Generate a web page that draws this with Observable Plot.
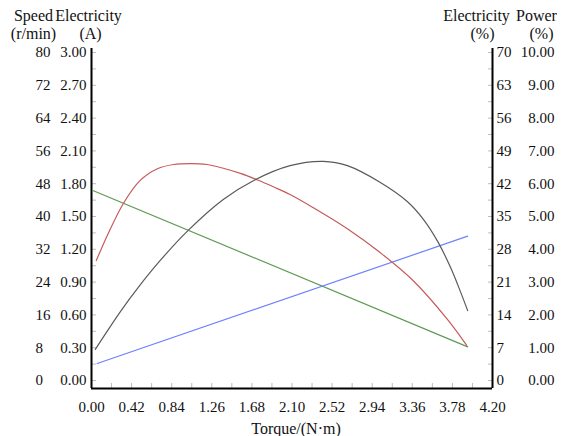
<!DOCTYPE html>
<html><head><meta charset="utf-8">
<script src="https://cdn.jsdelivr.net/npm/d3@7"></script>
<script src="https://cdn.jsdelivr.net/npm/@observablehq/plot@0.6"></script>
<style>body{margin:0;background:#fff}</style>
</head><body><div id="chart"></div>
<script>
// Speed (r/min) – green
const speedTorque = [0.02, 3.94];
const speedValues = [46.3, 8.2];
// Electricity (A) – blue
const currentTorque = [0.06, 3.94];
const currentValues = [0.156, 1.32];
// Electricity (%) – red
const effTorque = [0.05, 0.18, 0.34, 0.51, 0.69, 0.86, 1.04, 1.21, 1.38, 1.56, 1.74, 1.91, 2.08, 2.33, 2.68, 3.03, 3.37, 3.73, 3.93];
const effValues = [25.6, 31.6, 38.0, 42.7, 45.2, 46.1, 46.3, 46.1, 45.3, 44.2, 42.8, 41.3, 39.7, 36.8, 32.4, 27.2, 21.3, 13.0, 7.5];
// Power (%) – gray
const powerTorque = [0.04, 0.31, 0.49, 0.72, 1.01, 1.38, 1.70, 2.08, 2.43, 2.68, 3.03, 3.31, 3.48, 3.63, 3.76, 3.86, 3.94];
const powerValues = [0.95, 2.13, 2.84, 3.66, 4.57, 5.52, 6.10, 6.55, 6.68, 6.55, 6.03, 5.45, 4.90, 4.22, 3.45, 2.74, 2.13];

const xTickLabels = [0.00, 0.42, 0.84, 1.26, 1.68, 2.10, 2.52, 2.94, 3.36, 3.78, 4.20];
const xMinorTicks = [0.21, 0.42, 0.63, 0.84, 1.05, 1.26, 1.47, 1.68, 1.89, 2.10, 2.31, 2.52, 2.73, 2.94, 3.15, 3.36, 3.57, 3.78, 3.99];
const speedTicks = [0, 8, 16, 24, 32, 40, 48, 56, 64, 72, 80];
const currentTicks = [0.00, 0.30, 0.60, 0.90, 1.20, 1.50, 1.80, 2.10, 2.40, 2.70, 3.00];
const effTicks = [0, 7, 14, 21, 28, 35, 42, 49, 56, 63, 70];
const powerTicks = [0.00, 1.00, 2.00, 3.00, 4.00, 5.00, 6.00, 7.00, 8.00, 9.00, 10.00];
const minorTicks = [0, 4, 8, 12, 16, 20, 24, 28, 32, 36, 40, 44, 48, 52, 56, 60, 64, 68, 72, 76, 80];

// common vertical scale: speed units (0–80)
const fromSpeed = v => v, fromCurrent = v => v * 80 / 3, fromEff = v => v * 80 / 70, fromPower = v => v * 8;
const series = (xs, ys, f) => xs.map((x, i) => ({x, y: f(ys[i])}));
const speedData = series(speedTorque, speedValues, fromSpeed);
const currentData = series(currentTorque, currentValues, fromCurrent);
const effData = series(effTorque, effValues, fromEff);
const powerData = series(powerTorque, powerValues, fromPower);

const yMin = -1.95, yMax = 80.98;
const tickStroke = "#bdbdbd";
const head = (t, anchor, dx, dy) => Plot.text([t], {frameAnchor: anchor, dx, dy, text: d => d, textAnchor: "middle", lineAnchor: "middle", fontSize: 16});

const chart = Plot.plot({
  width: 562, height: 436,
  marginLeft: 91, marginRight: 70, marginTop: 48, marginBottom: 48,
  style: {fontFamily: "'Liberation Serif', 'Times New Roman', serif", fontSize: "15px", background: "#fff", color: "#111"},
  x: {domain: [0, 4.2]},
  y: {domain: [yMin, yMax]},
  marks: [
    // minor tick marks (inside)
    Plot.axisY(minorTicks, {anchor: "left", tickSize: 5, dx: 5, tickFormat: () => "", stroke: tickStroke, label: null}),
    Plot.axisY(minorTicks, {anchor: "right", tickSize: 5, dx: -5, tickFormat: () => "", stroke: tickStroke, label: null}),
    Plot.axisX(xMinorTicks, {anchor: "bottom", tickSize: 5, dy: -5, tickFormat: () => "", stroke: tickStroke, label: null}),
    // tick labels
    Plot.axisY(speedTicks.map(fromSpeed), {anchor: "left", tickSize: 0, tickPadding: 56, textAnchor: "start", tickFormat: d => String(Math.round(d)), label: null}),
    Plot.axisY(currentTicks.map(fromCurrent), {anchor: "left", tickSize: 0, tickPadding: 5, textAnchor: "end", tickFormat: d => (d * 3 / 80).toFixed(2), label: null}),
    Plot.axisY(effTicks.map(fromEff), {anchor: "right", tickSize: 0, tickPadding: 4, textAnchor: "start", tickFormat: d => String(Math.round(d * 70 / 80)), label: null}),
    Plot.axisY(powerTicks.map(fromPower), {anchor: "right", tickSize: 0, tickPadding: 62, textAnchor: "end", tickFormat: d => (d / 8).toFixed(2), label: null}),
    Plot.axisX(xTickLabels, {anchor: "bottom", tickSize: 0, tickPadding: 13, tickFormat: d => d.toFixed(2), label: null}),
    // axis lines
    Plot.ruleX([0], {stroke: "#000", strokeWidth: 2}),
    Plot.ruleX([4.2], {stroke: "#000", strokeWidth: 2}),
    Plot.ruleY([yMin], {stroke: "#000", strokeWidth: 2}),
    // series
    Plot.line(speedData, {x: "x", y: "y", stroke: "#5f9a55", strokeWidth: 1.2}),
    Plot.line(currentData, {x: "x", y: "y", stroke: "#6f80ff", strokeWidth: 1.2}),
    Plot.line(effData, {x: "x", y: "y", stroke: "#c65a5a", strokeWidth: 1.2, curve: "catmull-rom"}),
    Plot.line(powerData, {x: "x", y: "y", stroke: "#5a5a5a", strokeWidth: 1.2, curve: "catmull-rom"}),
    // headers
    head("Speed", "top-left", -58, -33),
    head("(r/min)", "top-left", -58, -15),
    head("Electricity", "top-left", -3, -33),
    head("(A)", "top-left", -1, -15),
    head("Electricity", "top-right", -16, -33),
    head("(%)", "top-right", -10, -15),
    head("Power", "top-right", 44, -33),
    head("(%)", "top-right", 49, -15),
    head("Torque/(N·m)", "bottom", 4, 40)
  ]
});
document.getElementById("chart").append(chart);
</script>
</body></html>
